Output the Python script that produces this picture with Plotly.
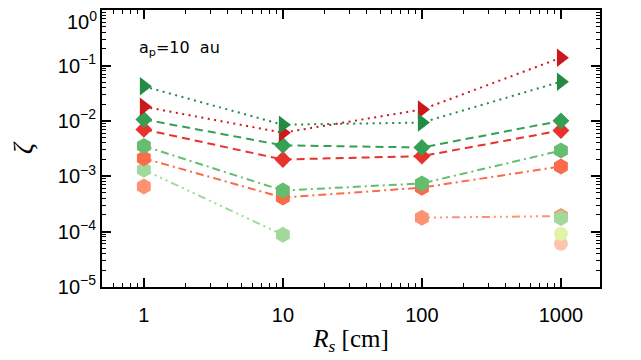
"""Collision parameter zeta vs planetesimal radius, a_p = 10 au."""
import plotly.graph_objects as go

RS = [1, 10, 100, 1000]

# one list per curve, None = no value at that radius
tri_green = [0.042, 0.0085, 0.0093, 0.051]
tri_red = [0.018, 0.0061, 0.016, 0.138]
dia_green = [0.0106, 0.0036, 0.0033, 0.0100]
dia_red = [0.0070, 0.0020, 0.0023, 0.0067]
hex_green = [0.0035, 0.00055, 0.00074, 0.0029]
hex_tomato = [0.0021, 0.00041, 0.00062, 0.0015]
hex_lgreen = [0.0013, 0.000087, None, 0.000175]
hex_salmon = [0.00065, None, 0.000178, 0.00019]
dot_yellow = [None, None, None, 0.000091]
dot_pink = [None, None, None, 0.00006]

YTICKS = [1e-5, 1e-4, 1e-3, 1e-2, 1e-1, 1]
YTEXT = ["10<sup>−5</sup>", "10<sup>−4</sup>", "10<sup>−3</sup>",
         "10<sup>−2</sup>", "10<sup>−1</sup>", ""]
TOP_LABEL = "10<sup>0</sup>"  # drawn as annotation so it sits inside the page

DOT = "2px,4.5px"
DASH = "8px,5px"
DASHDOT = "8px,4px,2px,4px"
DASH3DOT = "8px,4px,2px,4px,2px,4px,2px,4px"

curves = [
    (hex_salmon, "#fc9272", "hexagon", 16, DASH3DOT),
    (hex_lgreen, "#a1d99b", "hexagon", 16, DASH3DOT),
    (hex_tomato, "#fb6a4a", "hexagon", 16, DASHDOT),
    (hex_green, "#66bd6f", "hexagon", 16, DASHDOT),
    (dia_red, "#e8322b", "diamond", 13, DASH),
    (dia_green, "#35a055", "diamond", 13, DASH),
    (tri_red, "#cb181d", "triangle-right", 16, DOT),
    (tri_green, "#238b45", "triangle-right", 16, DOT),
    (dot_pink, "#fcc5ae", "circle", 14, "solid"),
    (dot_yellow, "#e2f2a8", "circle", 14, "solid"),
]

fig = go.Figure()
for ys, col, sym, size, dash in curves:
    fig.add_trace(go.Scatter(
        x=RS, y=ys, mode="lines+markers", connectgaps=False,
        line=dict(color=col, width=2, dash=dash),
        marker=dict(symbol=sym, size=size, color=col, line=dict(width=0)),
        showlegend=False,
    ))

TICKFONT = dict(family="Liberation Sans", size=20, color="black")

axis_common = dict(
    type="log", showline=True, linecolor="black", linewidth=2, mirror="allticks",
    ticks="inside", ticklen=9, tickwidth=1.5, tickcolor="black",
    showgrid=False, zeroline=False, ticklabeloverflow="allow", automargin=False,
    minor=dict(ticks="inside", dtick="D1", ticklen=4, tickwidth=1,
               tickcolor="black", showgrid=False),
    tickfont=TICKFONT,
)

fig.update_xaxes(
    range=[-0.301, 3.281], tickvals=RS, ticktext=["1", "10", "100", "1000"],
    ticklabelstandoff=9,
    title=dict(text="<i>R<sub>s</sub></i> [cm]", standoff=4,
               font=dict(family="Liberation Serif", size=25, color="black")),
    **axis_common,
)
fig.update_yaxes(
    range=[-5.003, 0.003], tickvals=YTICKS, ticktext=YTEXT,
    title=dict(text="<i>ζ</i>", standoff=18,
               font=dict(family="Liberation Serif", size=27, color="black")),
    **axis_common,
)

fig.add_annotation(
    x=0, y=0, xref="paper", yref="y", xanchor="right", yanchor="middle",
    xshift=-3, yshift=-10, text=TOP_LABEL, showarrow=False, font=TICKFONT,
)
fig.add_annotation(
    x=0.07, y=0.86, xref="paper", yref="paper", xanchor="left", yanchor="middle",
    text="a<sub>p</sub>=10  au", showarrow=False,
    font=dict(family="DejaVu Sans", size=16, color="black"),
)

# the page body adds an 8px offset, so the figure is a little smaller than the window
fig.update_layout(
    width=633, height=352,
    margin=dict(l=94, r=41, t=2, b=73),
    paper_bgcolor="white", plot_bgcolor="white",
)

fig.write_html("out.html")
